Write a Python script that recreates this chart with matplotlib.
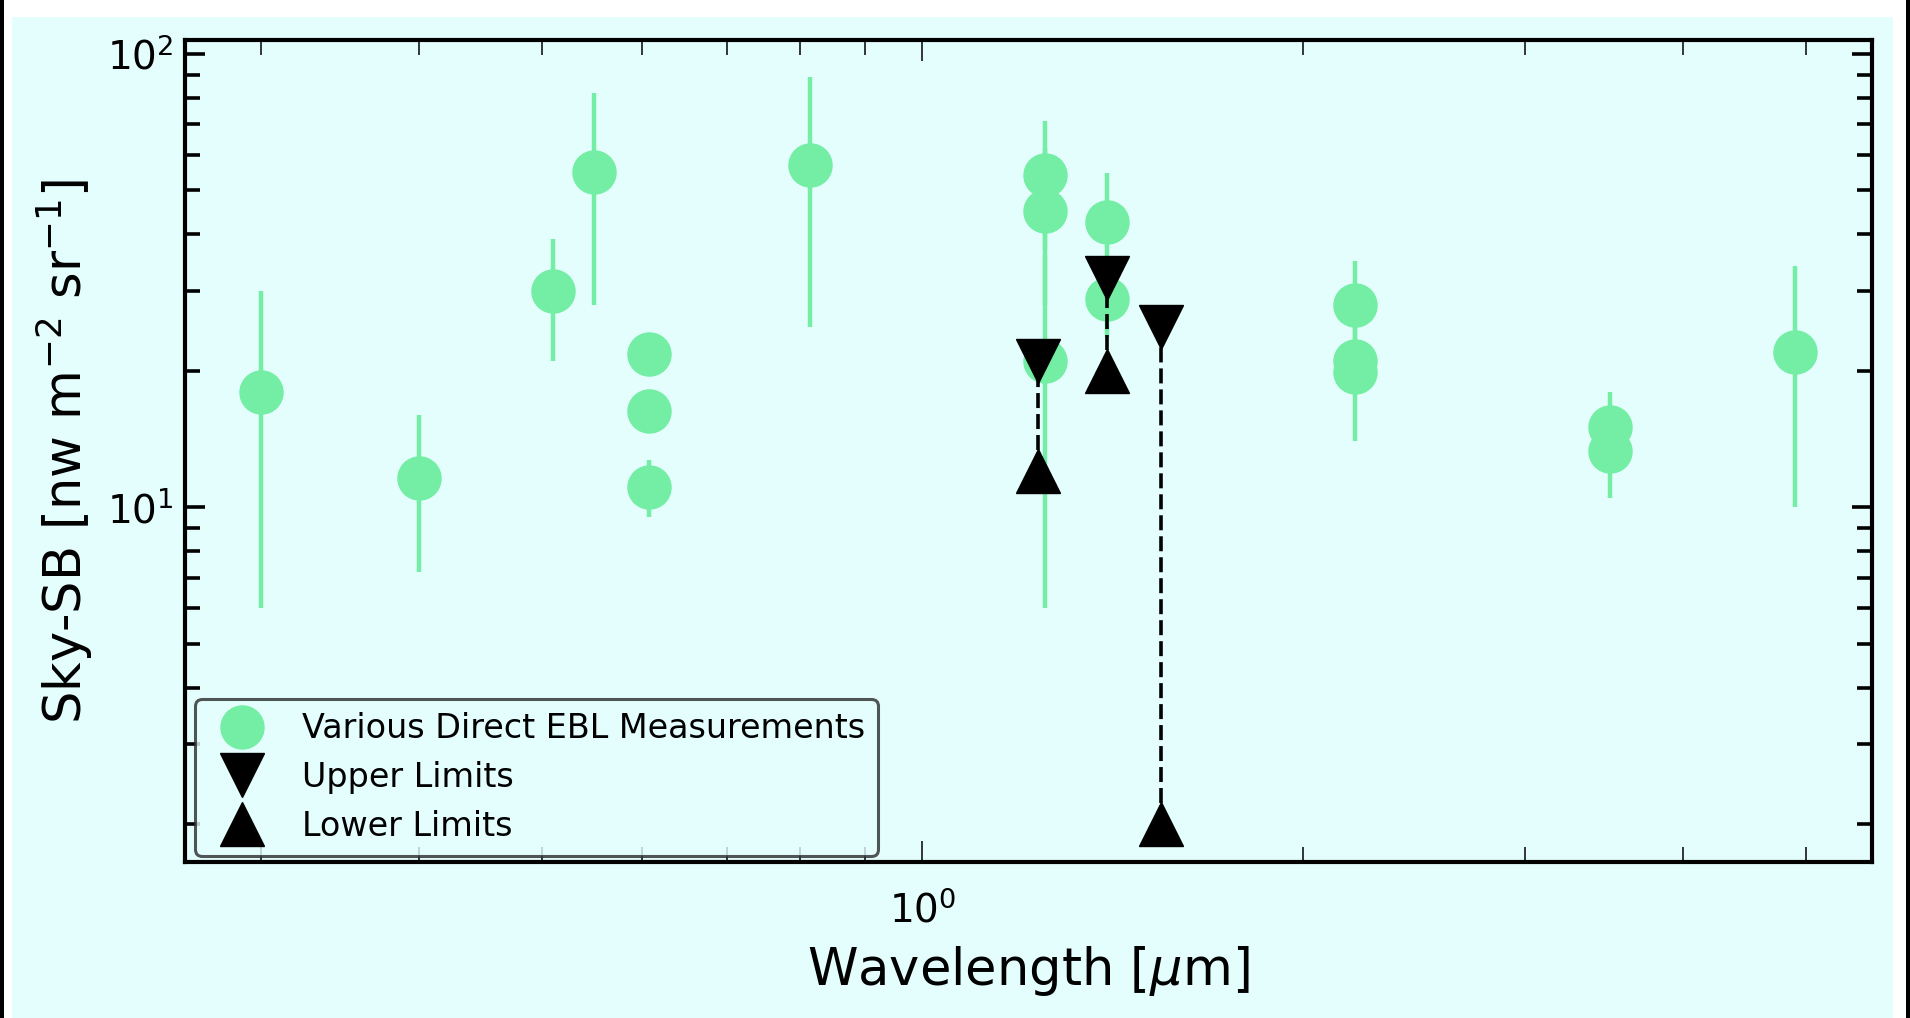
import matplotlib
matplotlib.use("Agg")
import matplotlib.pyplot as plt
from matplotlib.lines import Line2D
from matplotlib.patches import Rectangle
from matplotlib.ticker import NullFormatter

# Direct EBL measurements: wavelength [um], sky surface brightness, symmetric error
ebl_wavelength = [0.30, 0.40, 0.51, 0.55, 0.608, 0.608, 0.608, 0.815,
                  1.25, 1.25, 1.25, 1.40, 1.40, 2.20, 2.20, 2.20, 3.50, 3.50, 4.90]
ebl_value = [18.0, 11.6, 30.0, 55.0, 21.8, 16.3, 11.1, 57.0,
             54.0, 45.0, 21.0, 42.6, 28.8, 27.9, 21.0, 19.9, 15.0, 13.3, 22.0]
ebl_error = [12.0, 4.4, 9.0, 27.0, 1.0, 1.0, 1.6, 32.0,
             17.0, 17.0, 15.0, 12.0, 5.0, 7.0, 7.0, 1.0, 3.0, 2.8, 12.0]

# Bracketing limits: wavelength [um], upper and lower limits
limit_wavelength = [1.235, 1.40, 1.545]
upper_limit = [21.0, 32.0, 25.0]
lower_limit = [12.0, 20.0, 2.0]

legend_labels = ["Various Direct EBL Measurements", "Upper Limits", "Lower Limits"]

GREEN = "#74eea4"
CYAN = "#e4fefe"

W, H, DPI = 1910, 1018, 100
fig = plt.figure(figsize=(W / DPI, H / DPI), dpi=DPI)
fig.patch.set_facecolor("white")

# page frame: cyan panel with thin black side edges
fig.add_artist(Rectangle((12 / W, 0), 1881 / W, (H - 17) / H, transform=fig.transFigure,
                         facecolor=CYAN, edgecolor="none", zorder=-10))
fig.add_artist(Rectangle((0, 0), 4 / W, 1, transform=fig.transFigure,
                         facecolor="black", edgecolor="none", zorder=-9))
fig.add_artist(Rectangle((1906 / W, 0), 4 / W, 1, transform=fig.transFigure,
                         facecolor="black", edgecolor="none", zorder=-9))

ax = fig.add_axes([185 / W, 1 - 862 / H, (1872 - 185) / W, (862 - 40) / H])
ax.set_facecolor(CYAN)
ax.set_xscale("log")
ax.set_yscale("log")

ax.errorbar(ebl_wavelength, ebl_value, yerr=ebl_error, fmt="o", color=GREEN,
            markersize=31, elinewidth=3.2, capsize=0, zorder=2)

for lam, lo, hi in zip(limit_wavelength, lower_limit, upper_limit):
    ax.plot([lam, lam], [lo, hi], color="black", linestyle=(0, (4.15, 1.66)),
            linewidth=2.6, zorder=3)
ax.plot(limit_wavelength, upper_limit, linestyle="none", marker="v", color="black",
        markersize=31, zorder=4)
ax.plot(limit_wavelength, lower_limit, linestyle="none", marker="^", color="black",
        markersize=31, zorder=4)

ax.set_xlim(0.261, 5.64)
ax.set_ylim(1.65, 107.4)

for side in ax.spines.values():
    side.set_linewidth(3)

ax.tick_params(which="both", direction="in", top=True, right=True)
ax.tick_params(axis="y", which="major", length=14.5, width=2.6, labelsize=28, pad=8)
ax.tick_params(axis="y", which="minor", length=11, width=2.6)
ax.tick_params(axis="x", which="major", length=15, width=1.1, labelsize=28, pad=20.5)
ax.tick_params(axis="x", which="minor", length=11, width=1.1)
ax.xaxis.set_minor_formatter(NullFormatter())
ax.yaxis.set_minor_formatter(NullFormatter())

ax.set_xlabel(r"Wavelength [$\mu$m]", fontsize=36.8)
ax.set_ylabel(r"Sky-SB [nw m$^{-2}$ sr$^{-1}$]", fontsize=36.8)
ax.xaxis.set_label_coords(0.5, -0.0995)
ax.yaxis.set_label_coords(-0.0534, 0.5)

handles = [
    Line2D([], [], linestyle="none", marker="o", color=GREEN, markersize=31),
    Line2D([], [], linestyle="none", marker="v", color="black", markersize=31),
    Line2D([], [], linestyle="none", marker="^", color="black", markersize=31),
]
leg = ax.legend(handles, legend_labels, loc="lower left",
                bbox_to_anchor=(10 / 1687, 6 / 822), borderaxespad=0,
                fontsize=24, labelspacing=0.47, fancybox=True,
                edgecolor="#2a2a2a", framealpha=0.8)
leg.get_frame().set_linewidth(2.2)
leg.get_frame().set_facecolor(CYAN)

fig.savefig("out.png", dpi=DPI, facecolor=fig.get_facecolor())
